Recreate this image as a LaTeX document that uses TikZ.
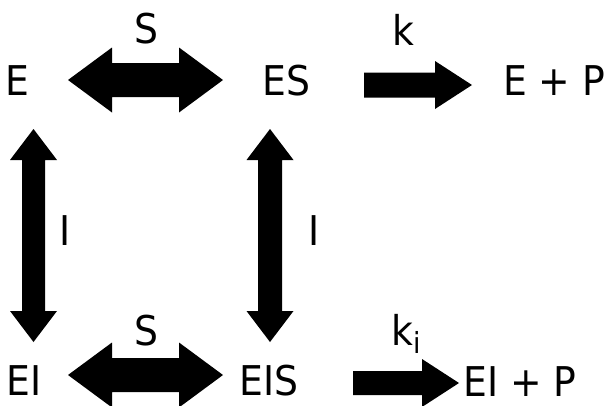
\documentclass[tikz,border=0pt]{standalone}
\usepackage{fontspec}
\setmainfont[FakeStretch=0.92]{DejaVu Sans}
\usetikzlibrary{calc}

% horizontal double block arrow between two tips:
% #1 left tip, #2 right tip, #3 head length, #4 head half-width, #5 shaft half-width
\newcommand\hdblarrow[5]{%
  \fill[black] (#1) -- ($(#1)+(#3,-#4)$) -- ($(#1)+(#3,-#5)$)
    -- ($(#2)+(-#3,-#5)$) -- ($(#2)+(-#3,-#4)$) -- (#2)
    -- ($(#2)+(-#3,#4)$) -- ($(#2)+(-#3,#5)$)
    -- ($(#1)+(#3,#5)$) -- ($(#1)+(#3,#4)$) -- cycle;}
% vertical double block arrow: #1 top tip, #2 bottom tip
\newcommand\vdblarrow[5]{%
  \fill[black] (#1) -- ($(#1)+(-#4,#3)$) -- ($(#1)+(-#5,#3)$)
    -- ($(#2)+(-#5,-#3)$) -- ($(#2)+(-#4,-#3)$) -- (#2)
    -- ($(#2)+(#4,-#3)$) -- ($(#2)+(#5,-#3)$)
    -- ($(#1)+(#5,#3)$) -- ($(#1)+(#4,#3)$) -- cycle;}
% single block arrow pointing right: #1 tail centre, #2 tip
\newcommand\rblockarrow[5]{%
  \fill[black] ($(#1)+(0,-#5)$) -- ($(#2)+(-#3,-#5)$) -- ($(#2)+(-#3,-#4)$)
    -- (#2) -- ($(#2)+(-#3,#4)$) -- ($(#2)+(-#3,#5)$) -- ($(#1)+(0,#5)$) -- cycle;}

\begin{document}
\begin{tikzpicture}[x=1pt,y=-1pt,
    species/.style={inner sep=0pt,anchor=base west,font=\fontsize{41}{49}\selectfont},
    rate/.style={inner sep=0pt,anchor=base,font=\fontsize{41}{49}\selectfont}]
  \useasboundingbox (0,0) rectangle (606,405);

  % species
  \node[species] (E)   at (5,95)    {E};
  \node[species] (ES)  at (262,95)  {ES};
  \node[species] (EP)  at (503,95)  {E + P};
  \node[species] (EI)  at (6,395)   {EI};
  \node[species] (EIS) at (239,395) {EIS};
  \node[species] (EIP) at (463,396) {EI + P};

  % rate and binding labels
  \node[rate] (s1) at (146,43)  {S};
  \node[rate] (k1) at (403,45)  {k};
  \node[rate] (s2) at (146,345) {S};
  \node[species] (k2) at (391,345) {k\raisebox{-8pt}{\fontsize{29}{30}\selectfont i}};
  \node[rate] (i1) at (65.5,245) {I};
  \node[rate] (i2) at (314,245)  {I};

  % arrow tips
  \coordinate (aE)   at (68,80);
  \coordinate (aES)  at (223,80);
  \coordinate (aEI)  at (68,375);
  \coordinate (aEIS) at (223,375);
  \coordinate (vLt)  at (33.5,129);
  \coordinate (vLb)  at (33.5,342);
  \coordinate (vRt)  at (270,129);
  \coordinate (vRb)  at (270,342);
  \coordinate (pTt)  at (364,85);
  \coordinate (pTh)  at (472,85);
  \coordinate (pBt)  at (353,383);
  \coordinate (pBh)  at (459,383);

  % E <-> ES and EI <-> EIS
  \hdblarrow{aE}{aES}{44}{32.5}{17}
  \hdblarrow{aEI}{aEIS}{44}{32.5}{17}
  % E <-> EI and ES <-> EIS
  \vdblarrow{vLt}{vLb}{31}{23.5}{11.5}
  \vdblarrow{vRt}{vRb}{31}{23.5}{12}
  % product formation
  \rblockarrow{pTt}{pTh}{37}{24}{12.5}
  \rblockarrow{pBt}{pBh}{37}{24}{12}
\end{tikzpicture}
\end{document}
